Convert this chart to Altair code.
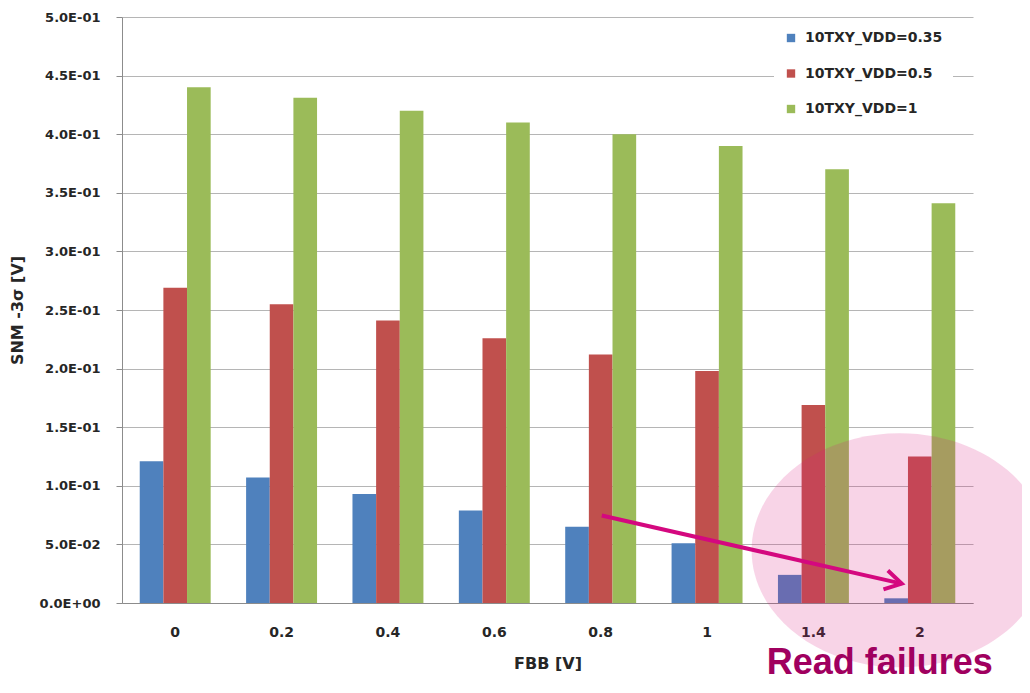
import altair as alt
import pandas as pd

# ---- data ----
fbb = ["0", "0.2", "0.4", "0.6", "0.8", "1", "1.4", "2"]
series = ["10TXY_VDD=0.35", "10TXY_VDD=0.5", "10TXY_VDD=1"]
vdd_035 = [0.121, 0.107, 0.093, 0.079, 0.065, 0.051, 0.024, 0.004]
vdd_05 = [0.269, 0.255, 0.241, 0.226, 0.212, 0.198, 0.169, 0.125]
vdd_1 = [0.440, 0.431, 0.420, 0.410, 0.400, 0.390, 0.370, 0.341]
y_ticks = [0.0, 0.05, 0.1, 0.15, 0.2, 0.25, 0.3, 0.35, 0.4, 0.45, 0.5]
colors = ["#4F81BD", "#C0504D", "#9BBB59"]

# annotation positions (x in category-index units 0..8, y in data units)
ellipse_x = [7.31]
ellipse_y = [0.045]
arrow_x1 = [4.51]
arrow_y1 = [0.0747]
arrow_x2 = [7.33]
arrow_y2 = [0.0165]
note_x = [6.06]
note_y = [-0.0605]
note_text = ["Read failures"]

rows = []
for name, vals in zip(series, [vdd_035, vdd_05, vdd_1]):
    for f, v in zip(fbb, vals):
        rows.append({"FBB": f, "Series": name, "SNM": v})
df = pd.DataFrame(rows)

FONT = "DejaVu Sans"
TXT = "#262626"

y_label_expr = ("replace(replace(upper(format(datum.value, '.1e')), 'E-', 'E-0'), 'E+', 'E+0')")

bars = alt.Chart(df).mark_bar().encode(
    x=alt.X(
        "FBB:N", sort=fbb,
        scale=alt.Scale(paddingInner=0.333, paddingOuter=0.1667),
        axis=alt.Axis(
            title="FBB [V]", labelAngle=0, ticks=False, tickSize=0,
            domainColor="#8C8C8C", labelFont=FONT, labelFontSize=14,
            labelFontWeight="bold", labelColor=TXT, labelPadding=22,
            titleFont=FONT, titleFontSize=16, titleFontWeight="bold",
            titleColor=TXT, titlePadding=16, grid=False,
        ),
    ),
    xOffset=alt.XOffset("Series:N", sort=series),
    y=alt.Y(
        "SNM:Q",
        scale=alt.Scale(domain=[0, 0.5], nice=False),
        axis=alt.Axis(
            values=y_ticks, labelExpr=y_label_expr, title="SNM -3σ [V]",
            grid=True, gridColor="#B5B5B5", domainColor="#8C8C8C",
            tickColor="#8C8C8C", tickSize=6, labelPadding=16,
            labelFont=FONT, labelFontSize=13, labelFontWeight="bold",
            labelColor=TXT, titleFont=FONT, titleFontSize=16,
            titleFontWeight="bold", titleColor=TXT, titlePadding=14,
        ),
    ),
    color=alt.Color(
        "Series:N", sort=series,
        scale=alt.Scale(domain=series, range=colors),
        legend=alt.Legend(
            title=None, orient="none", legendX=652, legendY=4,
            fillColor="white", padding=10, symbolType="square",
            symbolSize=70, symbolStrokeWidth=0, labelFont=FONT,
            labelFontSize=14, labelFontWeight="bold", labelColor=TXT,
            labelOffset=7, rowPadding=21.5,
        ),
    ),
)

xq = alt.Scale(domain=[0, 8], nice=False, zero=False)
yq = alt.Scale(domain=[0, 0.5], nice=False)

ell_df = pd.DataFrame({"x": ellipse_x, "y": ellipse_y})
ellipse = alt.Chart(ell_df).mark_point(
    filled=True, color="#D81B80", opacity=0.19, strokeWidth=0,
    size=87616, shape="M-1,0A1,0.79 0 1,1 1,0A1,0.79 0 1,1 -1,0Z",
).encode(
    x=alt.X("x:Q", scale=xq, axis=None),
    y=alt.Y("y:Q", scale=yq, axis=None),
)

arr_df = pd.DataFrame({"x1": arrow_x1, "y1": arrow_y1, "x2": arrow_x2, "y2": arrow_y2})
arrow_line = alt.Chart(arr_df).mark_rule(color="#D4087F", strokeWidth=4).encode(
    x=alt.X("x1:Q", scale=xq, axis=None),
    y=alt.Y("y1:Q", scale=yq, axis=None),
    x2="x2:Q",
    y2="y2:Q",
)
arrow_head = alt.Chart(arr_df).mark_point(
    filled=False, color="#D4087F", strokeWidth=4, size=900, angle=13,
    shape="M-1.1,-0.65L0,0L-1.1,0.65", opacity=1,
).encode(
    x=alt.X("x2:Q", scale=xq, axis=None),
    y=alt.Y("y2:Q", scale=yq, axis=None),
)

note_df = pd.DataFrame({"x": note_x, "y": note_y, "t": note_text})
note = alt.Chart(note_df).mark_text(
    align="left", baseline="alphabetic", font="Liberation Sans",
    fontSize=36, fontWeight="bold", color="#A0005F",
).encode(
    x=alt.X("x:Q", scale=xq, axis=None),
    y=alt.Y("y:Q", scale=yq, axis=None),
    text="t:N",
)

ann = alt.layer(ellipse, arrow_line, arrow_head, note)

chart = alt.layer(bars, ann).resolve_scale(
    x="independent", y="independent"
).properties(
    width=851, height=586,
    autosize=alt.AutoSizeParams(type="none"),
    padding={"left": 114, "top": 9, "right": 49, "bottom": 82},
    background="white",
).configure_view(stroke="transparent")

chart.save("out.html", embed_options={"renderer": "svg", "actions": False})
